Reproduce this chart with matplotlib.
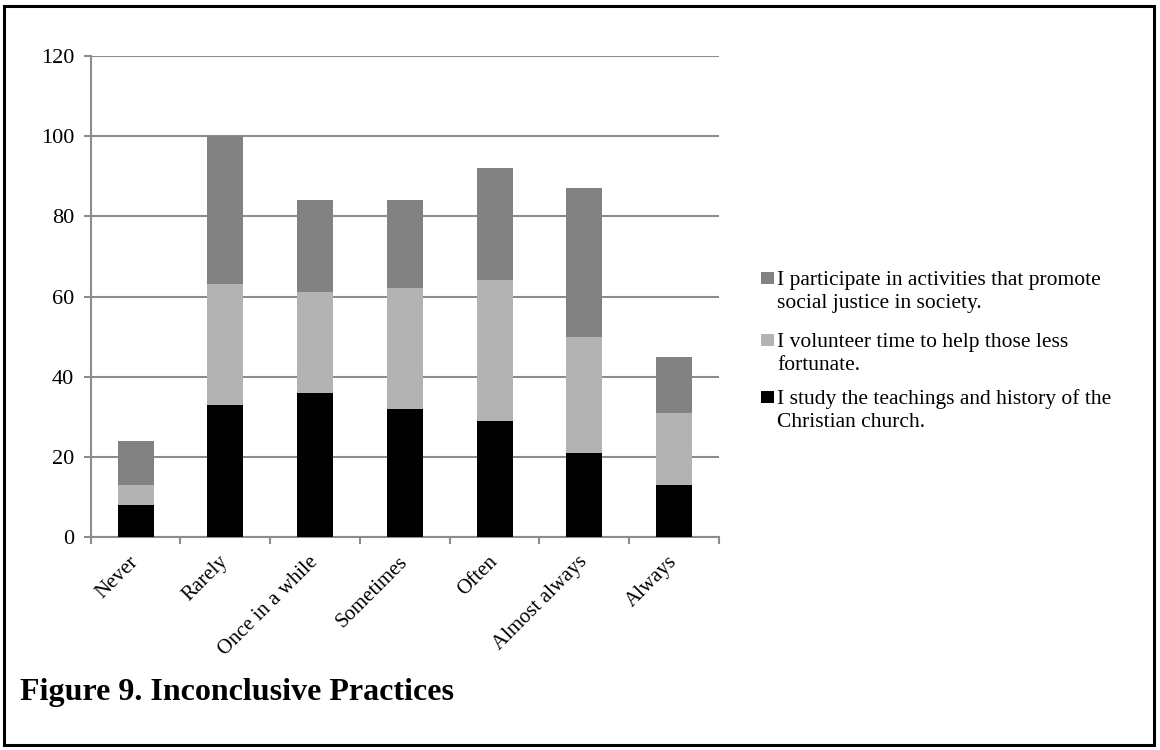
import matplotlib
matplotlib.use("Agg")
import matplotlib.pyplot as plt
from matplotlib.patches import Rectangle
import numpy as np

categories = ["Never", "Rarely", "Once in a while", "Sometimes", "Often",
              "Almost always", "Always"]
study = [8, 33, 36, 32, 29, 21, 13]
volunteer = [5, 30, 25, 30, 35, 29, 18]
participate = [11, 37, 23, 22, 28, 37, 14]
series_labels = [
    ["I participate in activities that promote", "social justice in society."],
    ["I volunteer time to help those less", "fortunate."],
    ["I study the teachings and history of the", "Christian church."],
]
yticks = [0, 20, 40, 60, 80, 100, 120]

c_black = "#000000"
c_light = "#b3b3b3"
c_dark = "#828282"
grid_c = "#8c8c8c"

plt.rcParams["font.family"] = ["Liberation Serif", "DejaVu Serif"]

W, H = 1160, 750
fig = plt.figure(figsize=(W / 100, H / 100), dpi=100)
ax = fig.add_axes([90.7 / W, 1 - 537 / H, (719 - 90.7) / W, (537 - 56) / H])

x = np.arange(len(categories))
w = 0.4
study_a = np.array(study)
vol_a = np.array(volunteer)
par_a = np.array(participate)
ax.bar(x, study_a, w, color=c_black, zorder=3)
ax.bar(x, vol_a, w, bottom=study_a, color=c_light, zorder=3)
ax.bar(x, par_a, w, bottom=study_a + vol_a, color=c_dark, zorder=3)

ax.set_xlim(-0.5, len(categories) - 0.5)
ax.set_ylim(0, 120)
ax.set_yticks(yticks)
ax.set_yticklabels([str(v) for v in yticks], fontsize=16)
ax.yaxis.grid(True, color=grid_c, linewidth=1.5, zorder=0)
ax.set_axisbelow(True)

ax.set_xticks(x)
ax.set_xticklabels(categories, rotation=45, ha="right", va="center",
                   rotation_mode="anchor", fontsize=15)
ax.tick_params(axis="x", which="major", length=0, pad=16)
ax.set_xticks(np.arange(-0.5, len(categories)), minor=True)
ax.tick_params(axis="x", which="minor", length=5, width=1.5, color=grid_c, direction="out")
ax.tick_params(axis="y", length=5, width=1.5, color=grid_c, direction="out", pad=7)

for s in ["top", "right"]:
    ax.spines[s].set_visible(False)
for s in ["left", "bottom"]:
    ax.spines[s].set_color(grid_c)
    ax.spines[s].set_linewidth(1.5)

# Legend: square key beside the first line of each two-line entry
legend_colors = [c_dark, c_light, c_black]
baselines = [(285, 308), (347, 370), (404, 427)]
for col, lines, ys in zip(legend_colors, series_labels, baselines):
    fig.patches.append(Rectangle((761 / W, 1 - (ys[0] - 1) / H), 13 / W, 12 / H,
                                 transform=fig.transFigure, facecolor=col,
                                 edgecolor="none"))
    for line, yb in zip(lines, ys):
        fig.text(777 / W, 1 - yb / H, line, fontsize=15.5,
                 ha="left", va="baseline")

fig.text(20 / W, 1 - 700 / H, "Figure 9. Inconclusive Practices",
         fontsize=23, fontweight="bold", ha="left", va="baseline")

fig.patches.append(Rectangle((4 / W, 5 / H), 1150 / W, 739 / H,
                             transform=fig.transFigure, fill=False,
                             edgecolor="black", linewidth=2.2))

fig.savefig("out.png", dpi=100)
